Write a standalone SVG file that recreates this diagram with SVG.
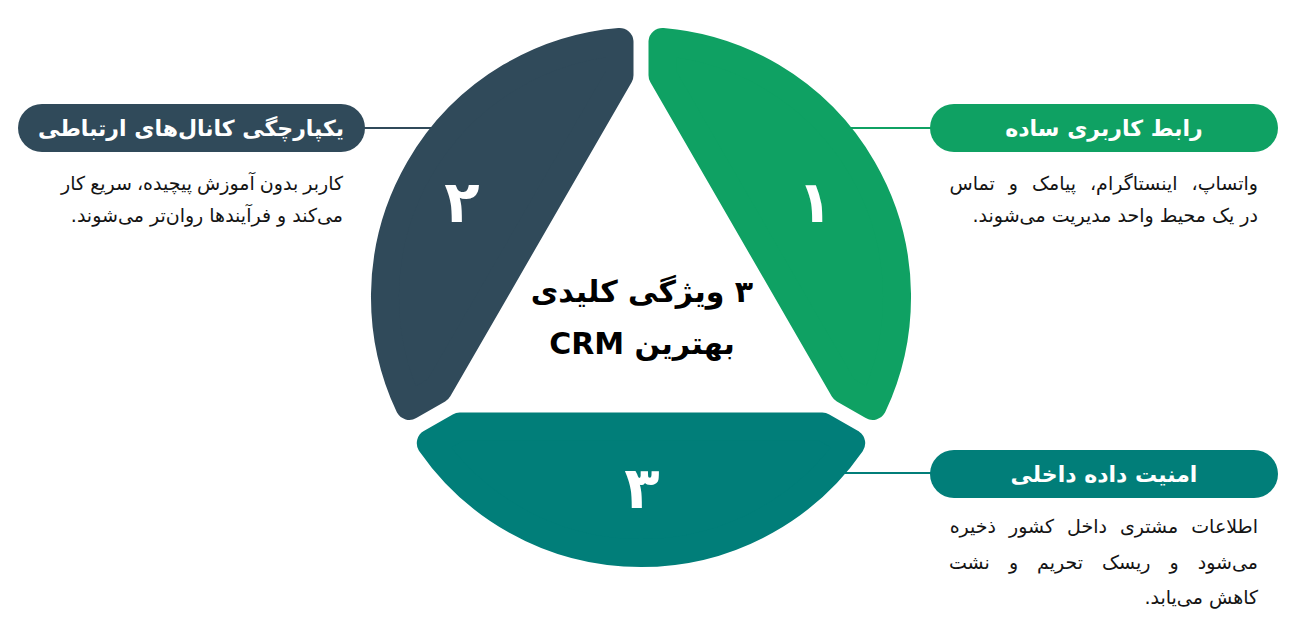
<svg xmlns="http://www.w3.org/2000/svg" width="1300" height="644" viewBox="0 0 1300 644">
<style>
.seg{stroke-width:28;stroke-linejoin:round}
.dark{fill:#304a5a;stroke:#304a5a}
.green{fill:#0fa163;stroke:#0fa163}
.teal{fill:#017e79;stroke:#017e79}
.num{font-family:"DejaVu Sans",sans-serif;font-weight:bold;font-size:58px;fill:#fff;text-anchor:middle}
.pilltxt{font-family:"DejaVu Sans",sans-serif;font-weight:bold;font-size:22px;fill:#fff;text-anchor:middle}
.desc{font-family:"DejaVu Sans",sans-serif;font-size:19px;fill:#141414;text-anchor:start}
.title{font-family:"DejaVu Sans",sans-serif;font-weight:bold;font-size:30px;fill:#000;text-anchor:middle}
.conn{stroke-width:2;fill:none}
</style>
<g id="connectors">
<line class="conn" x1="360" y1="128" x2="440" y2="128" stroke="#304a5a"/>
<line class="conn" x1="845" y1="128" x2="940" y2="128" stroke="#0fa163"/>
<line class="conn" x1="835" y1="473" x2="940" y2="473" stroke="#017e79"/>
</g>
<g id="seg1">
<path class="seg green" d="M662.5 41.9 L662.5 75.2 L843.8 389.3 L872.7 405.9 A256 256 0 0 0 662.5 41.9 Z"/>
<text class="num" x="815" y="222">۱</text>
</g>
<g id="seg2">
<path class="seg dark" d="M619.5 41.9 L619.5 75.2 L438.2 389.3 L409.3 405.9 A256 256 0 0 1 619.5 41.9 Z"/>
<text class="num" x="462" y="222">۲</text>
</g>
<g id="seg3">
<path class="seg teal" d="M459.7 426.5 L430.8 443.2 A256 256 0 0 0 851.2 443.2 L822.3 426.5 Z"/>
<text class="num" x="642" y="508">۳</text>
</g>
<g id="center">
<text class="title" x="642" y="302" direction="rtl">۳ ویژگی کلیدی</text>
<text class="title" x="642" y="354" direction="rtl">بهترین CRM</text>
</g>
<g id="node1">
<rect x="930" y="104" width="348" height="48" rx="24" fill="#0fa163"/>
<text class="pilltxt" x="1104" y="136" direction="rtl">رابط کاربری ساده</text>
<text class="desc" x="1258" y="190" direction="rtl" word-spacing="8">واتساپ، اینستاگرام، پیامک و تماس</text>
<text class="desc" x="1258" y="222" direction="rtl">در یک محیط واحد مدیریت می‌شوند.</text>
</g>
<g id="node2">
<rect x="18" y="104" width="347" height="48" rx="24" fill="#304a5a"/>
<text class="pilltxt" x="191" y="136" direction="rtl">یکپارچگی کانال‌های ارتباطی</text>
<text class="desc" x="343" y="190" direction="rtl" word-spacing="-1">کاربر بدون آموزش پیچیده، سریع کار</text>
<text class="desc" x="343" y="222" direction="rtl">می‌کند و فرآیندها روان‌تر می‌شوند.</text>
</g>
<g id="node3">
<rect x="930" y="450" width="348" height="48" rx="24" fill="#017e79"/>
<text class="pilltxt" x="1104" y="482" direction="rtl">امنیت داده داخلی</text>
<text class="desc" x="1258" y="533" direction="rtl" word-spacing="7">اطلاعات مشتری داخل کشور ذخیره</text>
<text class="desc" x="1258" y="569" direction="rtl" word-spacing="13">می‌شود و ریسک تحریم و نشت</text>
<text class="desc" x="1258" y="604" direction="rtl">کاهش می‌یابد.</text>
</g>
</svg>
